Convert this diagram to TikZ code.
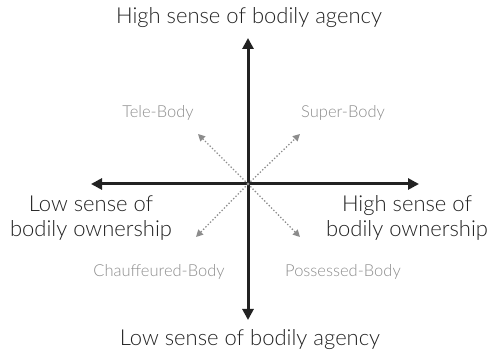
\documentclass[tikz,border=0pt]{standalone}
\usepackage{fontspec}
\setmainfont{Lato Light}
\usetikzlibrary{arrows.meta}
\definecolor{axisc}{HTML}{222222}
\definecolor{greyc}{HTML}{8C8C8C}
\begin{document}
\begin{tikzpicture}[x=1pt,y=-1pt,
  axis/.style={line width=3pt, draw=axisc, -{Triangle[length=11pt,width=11pt]}},
  diag/.style={line width=1.3pt, draw=greyc, dotted, -{Triangle[length=7pt,width=7pt]}},
  biglbl/.style={font=\fontsize{22}{25}\selectfont, text=axisc, align=center, inner sep=0pt},
  smalllbl/.style={font=\fontsize{16.5}{19}\selectfont, text=greyc, inner sep=0pt}]
\useasboundingbox (0,0) rectangle (490,355);
\coordinate (c) at (248,184);
\coordinate (top) at (248,38);
\coordinate (bot) at (248,320);
\coordinate (lft) at (91,184);
\coordinate (rgt) at (419,184);
\coordinate (ul) at (198,134);
\coordinate (ur) at (300,134);
\coordinate (ll) at (196,237);
\coordinate (lr) at (300,237);
\draw[axis] (c) -- (top);
\draw[axis] (c) -- (bot);
\draw[axis] (c) -- (lft);
\draw[axis] (c) -- (rgt);
\draw[diag] (c) -- (ul);
\draw[diag] (c) -- (ur);
\draw[diag] (c) -- (ll);
\draw[diag] (c) -- (lr);
\node[biglbl] (ha) at (249,18) {High sense of bodily agency};
\node[biglbl] (la) at (250,340) {Low sense of bodily agency};
\node[biglbl] (lo) at (91,218) {Low sense of\\bodily ownership};
\node[biglbl] (ho) at (407,218) {High sense of\\bodily ownership};
\node[smalllbl] (tb) at (158,113) {Tele-Body};
\node[smalllbl] (sb) at (343,113) {Super-Body};
\node[smalllbl] (cb) at (159,272) {Chauffeured-Body};
\node[smalllbl] (pb) at (343,272) {Possessed-Body};
\end{tikzpicture}
\end{document}
